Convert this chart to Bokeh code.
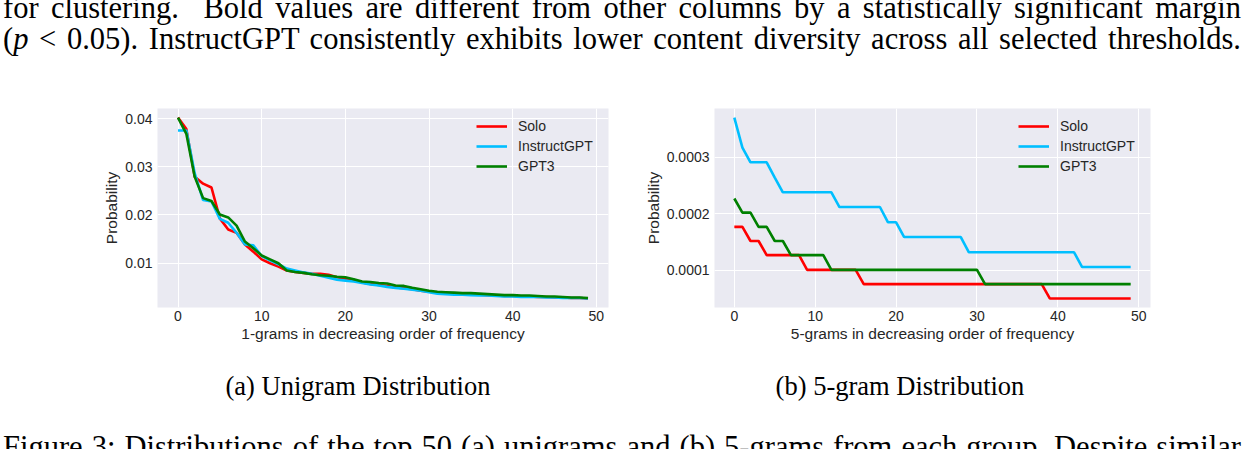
from bokeh.plotting import figure
from bokeh.models import Range1d, Div, Spacer, FixedTicker
from bokeh.layouts import column, row
from bokeh.embed import file_html
from bokeh.resources import INLINE

# ---------------- data ----------------
rank = list(range(50))
series_names = ["Solo", "InstructGPT", "GPT3"]
series_colors = ["#FF0000", "#00BFFF", "#008000"]

uni_solo = [0.0402, 0.0378, 0.0279, 0.0265, 0.0257, 0.0193, 0.0170, 0.0163, 0.0139, 0.0124,
            0.0108, 0.0100, 0.0093, 0.0085, 0.0082, 0.0080, 0.0078, 0.0078, 0.0076, 0.0071,
            0.0068, 0.0065, 0.0060, 0.0057, 0.0055, 0.0053, 0.0050, 0.0048, 0.0046, 0.0043,
            0.0041, 0.0039, 0.0038, 0.0037, 0.0036, 0.0035, 0.0035, 0.0034, 0.0033, 0.0032,
            0.0032, 0.0031, 0.0031, 0.0030, 0.0030, 0.0029, 0.0029, 0.0028, 0.0028, 0.0027]
uni_instruct = [0.0375, 0.0375, 0.0286, 0.0231, 0.0228, 0.0192, 0.0184, 0.0163, 0.0139, 0.0137,
                0.0115, 0.0106, 0.0098, 0.0089, 0.0085, 0.0081, 0.0078, 0.0074, 0.0070, 0.0066,
                0.0064, 0.0062, 0.0059, 0.0056, 0.0054, 0.0051, 0.0049, 0.0047, 0.0045, 0.0043,
                0.0040, 0.0037, 0.0036, 0.0035, 0.0035, 0.0034, 0.0033, 0.0033, 0.0032, 0.0031,
                0.0031, 0.0030, 0.0030, 0.0030, 0.0029, 0.0029, 0.0028, 0.0028, 0.0028, 0.0027]
uni_gpt3 = [0.0402, 0.0368, 0.0279, 0.0235, 0.0229, 0.0201, 0.0195, 0.0178, 0.0145, 0.0131,
            0.0116, 0.0108, 0.0100, 0.0085, 0.0082, 0.0080, 0.0077, 0.0075, 0.0074, 0.0072,
            0.0071, 0.0067, 0.0062, 0.0061, 0.0059, 0.0058, 0.0054, 0.0053, 0.0049, 0.0046,
            0.0043, 0.0041, 0.0040, 0.0039, 0.0038, 0.0038, 0.0037, 0.0036, 0.0035, 0.0034,
            0.0034, 0.0033, 0.0033, 0.0032, 0.0031, 0.0031, 0.0030, 0.0029, 0.0029, 0.0028]

five_solo = [0.000177, 0.000177, 0.000152, 0.000152, 0.000127, 0.000127, 0.000127, 0.000127, 0.000127, 0.000101,
             0.000101, 0.000101, 0.000101, 0.000101, 0.000101, 0.000101, 0.0000758, 0.0000758, 0.0000758, 0.0000758,
             0.0000758, 0.0000758, 0.0000758, 0.0000758, 0.0000758, 0.0000758, 0.0000758, 0.0000758, 0.0000758, 0.0000758,
             0.0000758, 0.0000758, 0.0000758, 0.0000758, 0.0000758, 0.0000758, 0.0000758, 0.0000758, 0.0000758, 0.0000505,
             0.0000505, 0.0000505, 0.0000505, 0.0000505, 0.0000505, 0.0000505, 0.0000505, 0.0000505, 0.0000505, 0.0000505]
five_instruct = [0.000370, 0.000317, 0.000291, 0.000291, 0.000291, 0.000264, 0.000238, 0.000238, 0.000238, 0.000238,
                 0.000238, 0.000238, 0.000238, 0.000212, 0.000212, 0.000212, 0.000212, 0.000212, 0.000212, 0.000185,
                 0.000185, 0.000159, 0.000159, 0.000159, 0.000159, 0.000159, 0.000159, 0.000159, 0.000159, 0.000132,
                 0.000132, 0.000132, 0.000132, 0.000132, 0.000132, 0.000132, 0.000132, 0.000132, 0.000132, 0.000132,
                 0.000132, 0.000132, 0.000132, 0.000106, 0.000106, 0.000106, 0.000106, 0.000106, 0.000106, 0.000106]
five_gpt3 = [0.000227, 0.000202, 0.000202, 0.000177, 0.000177, 0.000152, 0.000152, 0.000127, 0.000127, 0.000127,
             0.000127, 0.000127, 0.000101, 0.000101, 0.000101, 0.000101, 0.000101, 0.000101, 0.000101, 0.000101,
             0.000101, 0.000101, 0.000101, 0.000101, 0.000101, 0.000101, 0.000101, 0.000101, 0.000101, 0.000101,
             0.000101, 0.0000758, 0.0000758, 0.0000758, 0.0000758, 0.0000758, 0.0000758, 0.0000758, 0.0000758, 0.0000758,
             0.0000758, 0.0000758, 0.0000758, 0.0000758, 0.0000758, 0.0000758, 0.0000758, 0.0000758, 0.0000758, 0.0000758]

x_ticks = [0, 10, 20, 30, 40, 50]
uni_y_ticks = [0.01, 0.02, 0.03, 0.04]
uni_y_labels = ["0.01", "0.02", "0.03", "0.04"]
five_y_ticks = [0.0001, 0.0002, 0.0003]
five_y_labels = ["0.0001", "0.0002", "0.0003"]

uni_xlabel = "1-grams in decreasing order of frequency"
five_xlabel = "5-grams in decreasing order of frequency"
ylabel = "Probability"

top_line1 = "for clustering.&nbsp; Bold values are different from other columns by a statistically significant margin"
top_line2 = "(<i>p</i> &lt; 0.05). InstructGPT consistently exhibits lower content diversity across all selected thresholds."
cap_a = "(a) Unigram Distribution"
cap_b = "(b) 5-gram Distribution"
bottom_line = "Figure 3: Distributions of the top 50 (a) unigrams and (b) 5-grams from each group. Despite similar"

SANS = "Liberation Sans"
SERIF = "Liberation Serif"
TXT = "#262626"


def make_plot(series, yticks, ylabels, xlabel, min_left, frame_w, legend_loc):
    allv = [v for s in series for v in s]
    lo, hi = min(allv), max(allv)
    pad = (hi - lo) * 0.05
    p = figure(width=520, height=252, output_backend="svg", toolbar_location=None,
               x_range=Range1d(-2.45, 51.45), y_range=Range1d(lo - pad, hi + pad),
               min_border_left=min_left, min_border_right=520 - min_left - frame_w,
               min_border_top=8, min_border_bottom=45,
               background_fill_color="#EAEAF2", border_fill_color="white",
               outline_line_color=None)
    for s, name, col in zip(series, series_names, series_colors):
        p.line(rank, s, line_color=col, line_width=2.6, legend_label=name)
    p.xaxis.ticker = FixedTicker(ticks=x_ticks)
    p.yaxis.ticker = FixedTicker(ticks=yticks)
    p.yaxis.major_label_overrides = {t: l for t, l in zip(yticks, ylabels)}
    p.xaxis.axis_label = xlabel
    p.yaxis.axis_label = ylabel
    for ax in (p.xaxis, p.yaxis):
        ax.axis_line_color = None
        ax.major_tick_line_color = None
        ax.minor_tick_line_color = None
        ax.major_tick_out = 0
        ax.major_tick_in = 0
        ax.major_label_text_font = SANS
        ax.major_label_text_font_size = "14px"
        ax.major_label_text_color = TXT
        ax.axis_label_text_font = SANS
        ax.axis_label_text_font_size = "15.5px"
        ax.axis_label_text_font_style = "normal"
        ax.axis_label_text_color = TXT
    p.xaxis.major_label_standoff = 3
    p.xaxis.axis_label_standoff = 1
    p.yaxis.major_label_standoff = 5
    p.yaxis.axis_label_standoff = 2
    p.xgrid.grid_line_color = "white"
    p.ygrid.grid_line_color = "white"
    p.xgrid.grid_line_width = 1
    p.ygrid.grid_line_width = 1
    lg = p.legend[0]
    lg.location = legend_loc
    lg.padding = 0
    lg.margin = 0
    lg.spacing = 0
    lg.glyph_width = 31
    lg.glyph_height = 20
    lg.label_height = 20
    lg.label_standoff = 11
    lg.label_text_font = SANS
    lg.label_text_font_size = "14px"
    lg.label_text_color = TXT
    lg.background_fill_alpha = 0
    lg.border_line_alpha = 0
    return p


p1 = make_plot([uni_solo, uni_instruct, uni_gpt3], uni_y_ticks, uni_y_labels, uni_xlabel, 57, 451, (319, 131))
p2 = make_plot([five_solo, five_instruct, five_gpt3], five_y_ticks, five_y_labels, five_xlabel, 74, 436, (304, 131))

BODY_FS = 30.5
CAP_FS = 26.5


def line_div(text, top):
    return (f'<div style="position:absolute;left:3px;top:{top}px;width:1238px;white-space:nowrap;'
            f'text-align:justify;text-align-last:justify;line-height:1;font-size:{BODY_FS}px;">{text}</div>')


top_html = (f'<div style="position:relative;width:1258px;height:100px;font-family:\'{SERIF}\';'
            f'color:#000;overflow:visible;">'
            + line_div(top_line1, -7.5) + line_div(top_line2, 23.5) + '</div>')

bottom_html = (f'<div style="position:relative;width:1258px;height:97px;font-family:\'{SERIF}\';'
               f'color:#000;overflow:hidden;">'
               f'<div style="position:absolute;left:158px;top:21px;width:400px;text-align:center;line-height:1;'
               f'white-space:nowrap;font-size:{CAP_FS}px;">{cap_a}</div>'
               f'<div style="position:absolute;left:700px;top:21px;width:400px;text-align:center;line-height:1;'
               f'white-space:nowrap;font-size:{CAP_FS}px;">{cap_b}</div>'
               + line_div(bottom_line, 79.5) + '</div>')

top_div = Div(text=top_html, width=1258, height=100, margin=0)
bottom_div = Div(text=bottom_html, width=1258, height=97, margin=0)

layout = column(
    top_div,
    row(Spacer(width=100, height=252, margin=0), p1, Spacer(width=20, height=252, margin=0), p2,
        spacing=0, margin=0),
    bottom_div,
    spacing=0, margin=0,
)

open("out.html", "w").write(file_html(layout, INLINE))
